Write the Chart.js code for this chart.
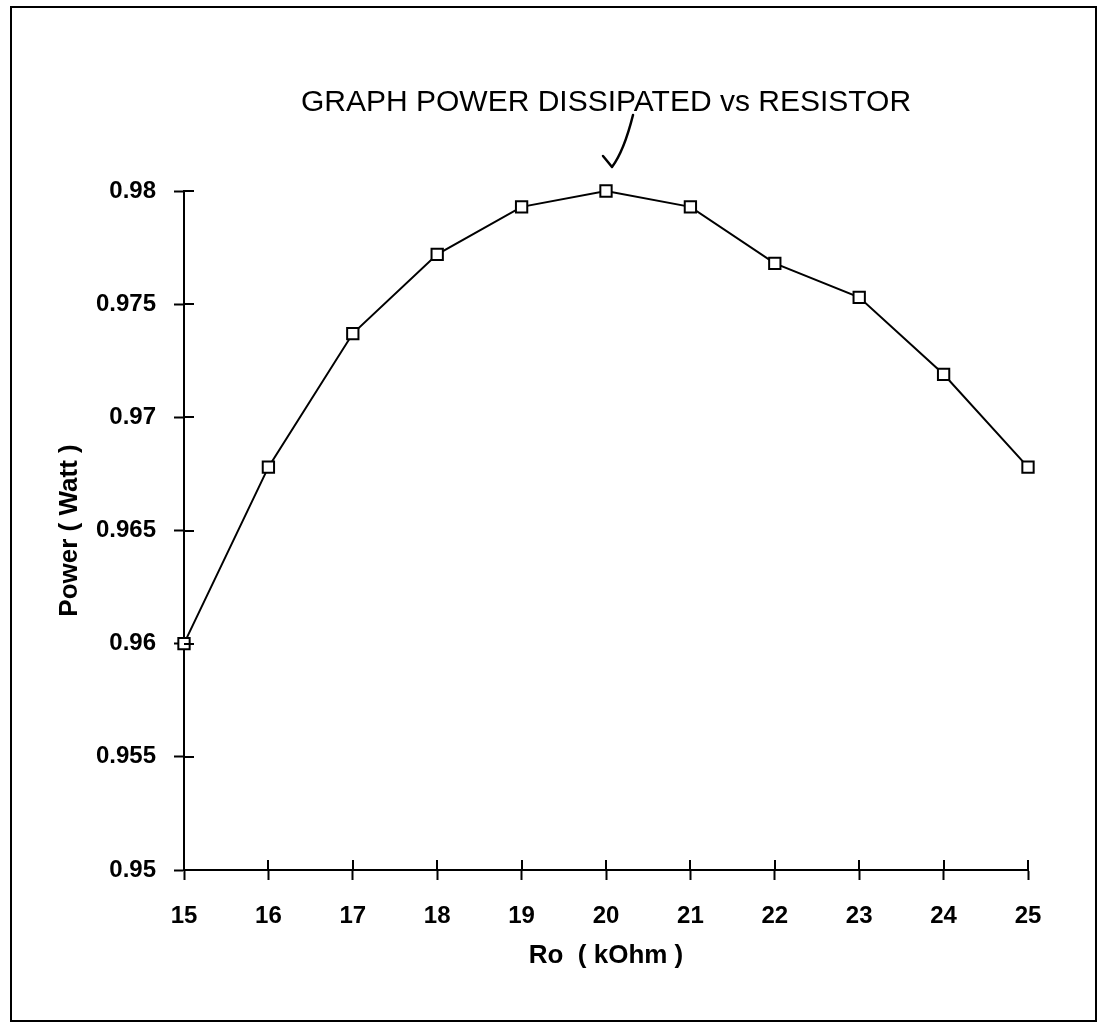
<!DOCTYPE html>
<html>
<head>
<meta charset="utf-8">
<title>Power dissipated vs resistor</title>
<script src="https://cdn.jsdelivr.net/npm/chart.js@4/dist/chart.umd.min.js"></script>
<style>
  html, body { margin: 0; padding: 0; background: #fff; }
  canvas { display: block; }
</style>
</head>
<body>
<canvas id="chart" width="1098" height="1023"></canvas>
<script>
// Load resistor Ro (kOhm) and the power it dissipates (W)
const resistanceK = [15, 16, 17, 18, 19, 20, 21, 22, 23, 24, 25];
const powerWatt = [0.9600, 0.9678, 0.9737, 0.9772, 0.9793, 0.9800, 0.9793, 0.9768, 0.9753, 0.9719, 0.9678];

const chartTitle = 'GRAPH POWER DISSIPATED vs RESISTOR';
const xAxisTitle = 'Ro  ( kOhm )';
const yAxisTitle = 'Power ( Watt )';

const INK = '#000';
const FONT = '"Liberation Sans", Arial, sans-serif';

// Tick marks that cross the axis line: Chart.js draws the outer half,
// this draws the inner half into the plot area.
const innerTicks = {
  id: 'innerTicks',
  afterDatasetsDraw(chart) {
    const { ctx, scales: { x, y } } = chart;
    const len = 10;
    ctx.save();
    ctx.strokeStyle = INK;
    ctx.lineWidth = 2;
    ctx.beginPath();
    x.ticks.forEach(t => {
      const px = Math.round(x.getPixelForValue(t.value));
      ctx.moveTo(px, y.bottom);
      ctx.lineTo(px, y.bottom - len);
    });
    y.ticks.forEach(t => {
      const py = Math.round(y.getPixelForValue(t.value));
      ctx.moveTo(x.left, py);
      ctx.lineTo(x.left + len, py);
    });
    ctx.stroke();
    ctx.restore();
  }
};

// Page frame and the hand-drawn tick pointing at the peak
const decorations = {
  id: 'decorations',
  afterDraw(chart) {
    const { ctx, scales: { x, y } } = chart;
    ctx.save();
    ctx.strokeStyle = INK;
    ctx.lineWidth = 2;
    ctx.strokeRect(11, 7, 1085, 1014);

    const i = powerWatt.indexOf(Math.max(...powerWatt));
    const px = x.getPixelForValue(resistanceK[i]);
    const py = y.getPixelForValue(powerWatt[i]);
    ctx.lineWidth = 2.5;
    ctx.lineCap = 'round';
    ctx.lineJoin = 'round';
    ctx.beginPath();
    ctx.moveTo(px - 3, py - 35);
    ctx.quadraticCurveTo(px + 2, py - 29, px + 6, py - 24);
    ctx.quadraticCurveTo(px + 18, py - 40, px + 27, py - 76);
    ctx.stroke();
    ctx.restore();
  }
};

new Chart(document.getElementById('chart'), {
  type: 'line',
  data: {
    datasets: [{
      data: resistanceK.map((r, k) => ({ x: r, y: powerWatt[k] })),
      borderColor: INK,
      borderWidth: 2,
      tension: 0,
      clip: false,
      pointStyle: 'rect',
      pointRadius: 8,
      pointBorderWidth: 2,
      pointBorderColor: INK,
      pointBackgroundColor: '#fff'
    }]
  },
  options: {
    responsive: false,
    animation: false,
    layout: { padding: { left: 0, right: 70, top: 0, bottom: 0 } },
    plugins: {
      legend: { display: false },
      tooltip: { enabled: false },
      title: {
        display: true,
        fullSize: false,
        text: chartTitle,
        color: INK,
        font: { family: FONT, size: 30, weight: 'normal', lineHeight: 1.2 },
        padding: { top: 85, bottom: 70 }
      }
    },
    scales: {
      x: {
        type: 'linear',
        min: 15,
        max: 25,
        afterFit(s) { s.height = 153; },
        ticks: {
          stepSize: 1,
          color: INK,
          padding: 22,
          font: { family: FONT, size: 24, weight: 'bold' }
        },
        grid: { drawOnChartArea: false, tickLength: 10, tickWidth: 2, tickColor: INK },
        border: { color: INK, width: 2 },
        title: {
          display: true,
          text: xAxisTitle,
          color: INK,
          font: { family: FONT, size: 26, weight: 'bold', lineHeight: 1.2 },
          padding: { top: 0, bottom: 52 }
        }
      },
      y: {
        min: 0.95,
        max: 0.98,
        afterFit(s) { s.width = 184; },
        ticks: {
          stepSize: 0.005,
          color: INK,
          padding: 18,
          font: { family: FONT, size: 24, weight: 'bold' },
          callback: v => String(Number(v.toFixed(3)))
        },
        grid: { drawOnChartArea: false, tickLength: 10, tickWidth: 2, tickColor: INK },
        border: { color: INK, width: 2 },
        title: {
          display: true,
          text: yAxisTitle,
          color: INK,
          font: { family: FONT, size: 26, weight: 'bold', lineHeight: 1.2 },
          padding: { top: 54, bottom: 0 }
        }
      }
    }
  },
  plugins: [innerTicks, decorations]
});
</script>
</body>
</html>
